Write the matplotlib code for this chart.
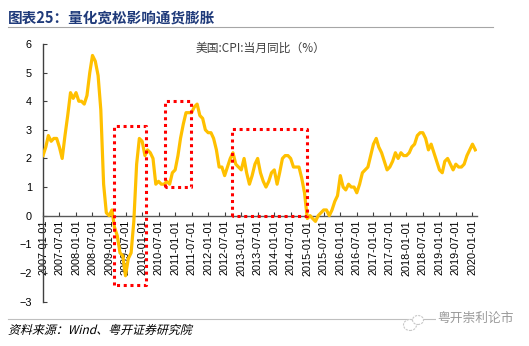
import numpy as np
import pandas as pd
import matplotlib
matplotlib.use('Agg')
import matplotlib.pyplot as plt
from matplotlib.lines import Line2D
from matplotlib.patches import PathPatch, Ellipse
from matplotlib.textpath import TextPath
from matplotlib.font_manager import FontProperties
from matplotlib.transforms import Affine2D

plt.rcParams['font.family'] = ['Liberation Sans', 'Noto Sans CJK SC', 'DejaVu Sans']

# US CPI yoy, monthly, 2007-01 .. 2020-02
cpi = [
    2.1, 2.4, 2.8, 2.6, 2.7, 2.7, 2.4, 2.0, 2.8, 3.5, 4.3, 4.1,     # 2007
    4.3, 4.0, 4.0, 3.9, 4.2, 5.0, 5.6, 5.4, 4.9, 3.7, 1.1, 0.1,     # 2008
    0.0, 0.2, -0.4, -0.7, -1.3, -1.4, -2.1, -1.5, -1.3, -0.2, 1.8, 2.7,  # 2009
    2.6, 2.1, 2.3, 2.2, 2.0, 1.1, 1.2, 1.1, 1.1, 1.2, 1.1, 1.5,     # 2010
    1.6, 2.1, 2.7, 3.2, 3.6, 3.6, 3.6, 3.8, 3.9, 3.5, 3.4, 3.0,     # 2011
    2.9, 2.9, 2.7, 2.3, 1.7, 1.7, 1.4, 1.7, 2.0, 2.2, 1.8, 1.7,     # 2012
    1.6, 2.0, 1.5, 1.1, 1.4, 1.8, 2.0, 1.5, 1.2, 1.0, 1.2, 1.5,     # 2013
    1.6, 1.1, 1.5, 2.0, 2.1, 2.1, 2.0, 1.7, 1.7, 1.7, 1.3, 0.8,     # 2014
    -0.1, 0.0, -0.1, -0.2, 0.0, 0.1, 0.2, 0.2, 0.0, 0.2, 0.5, 0.7,  # 2015
    1.4, 1.0, 0.9, 1.1, 1.0, 1.0, 0.8, 1.1, 1.5, 1.6, 1.7, 2.1,     # 2016
    2.5, 2.7, 2.4, 2.2, 1.9, 1.6, 1.7, 1.9, 2.2, 2.0, 2.2, 2.1,     # 2017
    2.1, 2.2, 2.4, 2.5, 2.8, 2.9, 2.9, 2.7, 2.3, 2.5, 2.2, 1.9,     # 2018
    1.6, 1.5, 1.9, 2.0, 1.8, 1.6, 1.8, 1.7, 1.7, 1.8, 2.1, 2.3,     # 2019
    2.5, 2.3,                                                       # 2020
]
dates = pd.date_range('2007-01-01', periods=len(cpi), freq='MS')

# highlighted periods (start, end, low, high)
box_start = ['2009-03-01', '2010-09-10', '2012-09-25']
box_end = ['2010-02-15', '2011-06-25', '2014-12-28']
box_low = [-2.42, 0.99, 0.0]
box_high = [3.15, 4.01, 3.02]

tick_dates = pd.date_range('2007-01-01', '2020-01-01', freq='6MS')

DPI = 100
fig = plt.figure(figsize=(5.29, 3.46), dpi=DPI)
ax = fig.add_axes([0.0813, 0.1286, 0.8204, 0.7442])

ax.plot(dates, cpi, color='#FFC000', lw=2.3, solid_joinstyle='round', zorder=3)

for s, e, lo, hi in zip(box_start, box_end, box_low, box_high):
    s, e = pd.Timestamp(s), pd.Timestamp(e)
    ax.plot([s, s, e, e, s], [lo, hi, hi, lo, lo], color='red', lw=2.2,
            ls=(0, (1, 1.2)), zorder=4)

ax.set_ylim(-3, 6)
ax.set_yticks(range(-3, 7))
ax.set_xlim(pd.Timestamp('2007-01-01'), pd.Timestamp('2020-02-20'))
ax.set_xticks(tick_dates)
ax.set_xticklabels([d.strftime('%Y-%m-%d') for d in tick_dates])

for k in ['top', 'right']:
    ax.spines[k].set_visible(False)
ax.spines['bottom'].set_position(('data', 0))
ax.spines['bottom'].set_color('#595959')
ax.spines['left'].set_color('#404040')
ax.spines['bottom'].set_linewidth(1.0)
ax.spines['left'].set_linewidth(1.0)
ax.tick_params(axis='both', direction='in', length=3, labelsize=7.8,
               colors='#404040', labelcolor='black')
ax.tick_params(axis='y', pad=8)
ax.tick_params(axis='x', pad=3, labelrotation=90)

cjk = ['Noto Sans CJK SC', 'DejaVu Sans']
ax.text(0.5, 0.985, '美国:CPI:当月同比（%）', transform=ax.transAxes,
        ha='center', va='center', fontsize=8.5, color='#404040', family=cjk)

# header
fig.text(0.015, 0.95, '图表25：量化宽松影响通货膨胀', fontsize=10.5, weight='bold',
         color='#1F3A7A', va='center', family=cjk)
fig.add_artist(Line2D([0.015, 0.932], [0.922, 0.922], color='#A6A6A6', lw=0.8))

# footer
fig.add_artist(Line2D([0.015, 0.826], [0.079, 0.079], color='#BFBFBF', lw=0.8))

# source line in slanted text (the CJK font has no italic face)
src = TextPath((0, 0), '资料来源：Wind、粤开证券研究院', size=8.6,
               prop=FontProperties(family='Noto Sans CJK SC'))
tr = Affine2D().skew_deg(14, 0).scale(DPI / 72.0).translate(8, 12)
fig.add_artist(PathPatch(src, transform=tr, facecolor='black', lw=0))

# watermark
for dx, dy, w, h in [(410, 325, 13, 11), (418, 320, 11, 9)]:
    fig.add_artist(Ellipse((dx / 529, 1 - dy / 346), w / 529, h / 346,
                           facecolor='white', edgecolor='#C8C8C8', lw=0.8,
                           ls=(0, (2, 1)), zorder=5))
fig.text(0.826, 0.081, '粤开崇利论市', fontsize=9.2, color='#999999', ha='left',
         va='center', family=cjk, zorder=6,
         bbox=dict(facecolor='white', edgecolor='none', pad=0.5))

fig.savefig('out.png', dpi=DPI)
